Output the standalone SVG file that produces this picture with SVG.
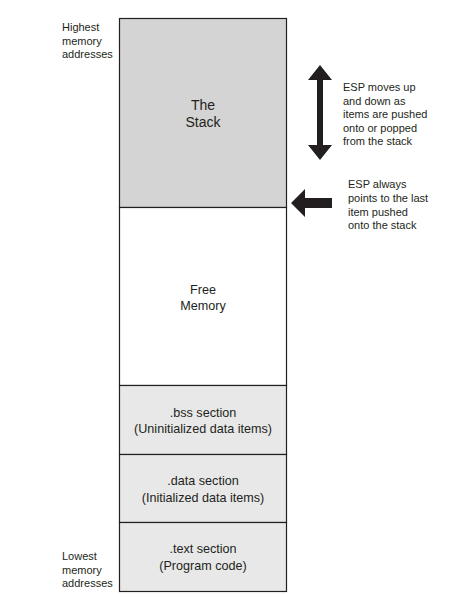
<svg xmlns="http://www.w3.org/2000/svg" width="454" height="597" viewBox="0 0 454 597">
<style>
text{font-family:"Liberation Sans",Arial,sans-serif;fill:#231f20}
.c{text-anchor:middle;font-size:12.6px}
.big{text-anchor:middle;font-size:14px}
.s{font-size:11px}
.box{stroke:#231f20;stroke-width:1.2}
</style>
<rect width="454" height="597" fill="#fff"/>
<g id="stack">
<rect class="box" x="119.5" y="18.5" width="167" height="189" fill="#d4d4d4"/>
<text class="big" x="203" y="110">The</text>
<text class="big" x="203" y="127">Stack</text>
</g>
<g id="free">
<rect class="box" x="119.5" y="207.5" width="167" height="178" fill="#fff"/>
<text class="c" x="203" y="294">Free</text>
<text class="c" x="203" y="310">Memory</text>
</g>
<g id="bss">
<rect class="box" x="119.5" y="385.5" width="167" height="69" fill="#e8e8e8"/>
<text class="c" x="203" y="417">.bss section</text>
<text class="c" x="203" y="433">(Uninitialized data items)</text>
</g>
<g id="data">
<rect class="box" x="119.5" y="454.5" width="167" height="68" fill="#e8e8e8"/>
<text class="c" x="203" y="485">.data section</text>
<text class="c" x="203" y="501.5">(Initialized data items)</text>
</g>
<g id="textsec">
<rect class="box" x="119.5" y="522.5" width="167" height="69" fill="#e8e8e8"/>
<text class="c" x="203" y="553">.text section</text>
<text class="c" x="203" y="570">(Program code)</text>
</g>
<g id="labels">
<text class="s" x="62" y="31">Highest</text>
<text class="s" x="62" y="45">memory</text>
<text class="s" x="62" y="58">addresses</text>
<text class="s" x="62" y="560">Lowest</text>
<text class="s" x="62" y="573.5">memory</text>
<text class="s" x="62" y="587">addresses</text>
<text class="s" x="343" y="91">ESP moves up</text>
<text class="s" x="343" y="104.5">and down as</text>
<text class="s" x="343" y="118">items are pushed</text>
<text class="s" x="343" y="131.5">onto or popped</text>
<text class="s" x="343" y="145">from the stack</text>
<text class="s" x="348" y="188">ESP always</text>
<text class="s" x="348" y="202">points to the last</text>
<text class="s" x="348" y="215.5">item pushed</text>
<text class="s" x="348" y="229">onto the stack</text>
</g>
<g id="connectors" fill="#231f20">
<polygon points="320,65 332,80 323,80 323,145 332,145 320,160 308,145 317,145 317,80 308,80"/>
<polygon points="291,203 305,189 305,198 332,198 332,208 305,208 305,217"/>
</g>
</svg>
